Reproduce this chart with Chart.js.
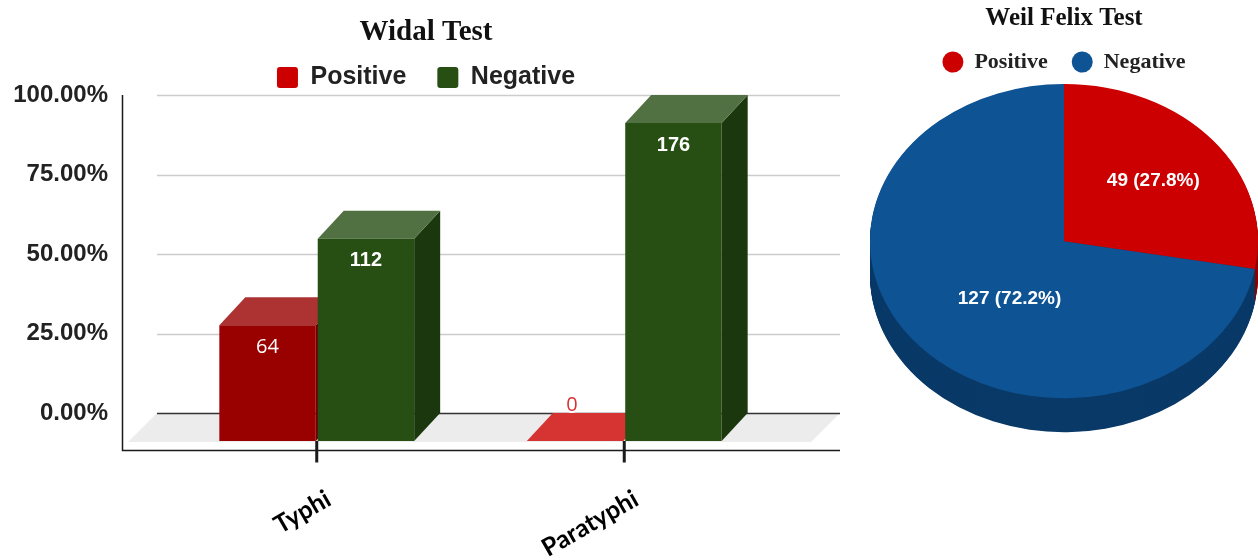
<!DOCTYPE html>
<html>
<head>
<meta charset="utf-8">
<script src="https://cdn.jsdelivr.net/npm/chart.js@4.4.1/dist/chart.umd.min.js"></script>
<style>
  html, body { margin: 0; padding: 0; background: #fff; }
  #wrap { position: relative; width: 1258px; height: 560px; overflow: hidden; }
  #widal { position: absolute; left: 0; top: 0; }
  #weil { position: absolute; left: 860px; top: 0; }
</style>
</head>
<body>
<div id="wrap">
  <canvas id="widal" width="860" height="560"></canvas>
  <canvas id="weil" width="398" height="560"></canvas>
</div>
<script>
// Widal test results (number of patients)
const widalCategories = ['Typhi', 'Paratyphi'];
const widalPositive = [64, 0];
const widalNegative = [112, 176];
const widalTotal = 176;
const widalTicks = [0, 25, 50, 75, 100];

// Weil Felix test results (number of patients)
const weilLabels = ['Positive', 'Negative'];
const weilCounts = [49, 127];

// Colours
const widalSeriesColors = ['#cc0000', '#274e13'];
const positiveBarColors = ['#990000', '#cc0000'];
const negativeBarColors = ['#274e13', '#274e13'];
const weilColors = ['#cc0000', '#0e5394'];

const valueLabelFonts = ['20px "Open Sans"', 'bold 20px "Liberation Sans"'];

Chart.defaults.font.family = '"Liberation Sans", Arial, sans-serif';

// mix a hex colour towards white (255) or black (0)
function shade(hex, target, amt) {
  const n = parseInt(hex.slice(1), 16);
  const ch = [(n >> 16) & 255, (n >> 8) & 255, n & 255]
    .map(v => Math.round(v + (target - v) * amt));
  return 'rgb(' + ch.join(',') + ')';
}
const lighten = (c, a) => shade(c, 255, a);
const darken = (c, a) => shade(c, 0, a);

// depth of the 3D bars (towards the back plane: right and up)
const DX = 26, DY = 28;
// empty band between the legend and the plot
const PLOT_GAP = 23;
// the back plane runs past the category band on both sides
const PLANE_LEFT_INSET = 6, PLANE_RIGHT_EXTRA = 62;
// left edge of the y tick labels
const LABELS_LEFT = 12;

const plotGap = {
  id: 'plotGap',
  beforeInit(chart) {
    Chart.layouts.addBox(chart, {
      position: 'top',
      weight: 0,
      fullSize: true,
      options: {},
      left: 0, top: 0, right: 0, bottom: 0, width: 0, height: 0,
      update(maxWidth) { this.width = maxWidth; this.height = PLOT_GAP; },
      isHorizontal() { return true; },
      draw() {}
    });
  },
  // centre title and legend over the whole drawing (labels to back plane)
  afterLayout(chart) {
    const left = LABELS_LEFT, right = chart.chartArea.right + PLANE_RIGHT_EXTRA;
    [chart.titleBlock, chart.legend].forEach(b => {
      if (!b) return;
      b.left = left;
      b.right = right;
      b.width = right - left;
    });
  }
};

const bar3d = {
  id: 'bar3d',
  beforeDraw(chart) {
    const { ctx, chartArea: ca, scales: { y } } = chart;
    const y0 = y.getPixelForValue(0);
    const left = ca.left - PLANE_LEFT_INSET, right = ca.right + PLANE_RIGHT_EXTRA;
    ctx.save();
    // floor
    ctx.fillStyle = '#ececec';
    ctx.beginPath();
    ctx.moveTo(left, y0 - DY);
    ctx.lineTo(right, y0 - DY);
    ctx.lineTo(right - DX - 3, y0 + 1);
    ctx.lineTo(left - DX - 3, y0 + 1);
    ctx.closePath();
    ctx.fill();
    // gridlines on the back plane
    widalTicks.forEach(v => {
      const py = Math.round(y.getPixelForValue(v) - DY) + 0.5;
      ctx.strokeStyle = v === 0 ? '#333333' : '#cccccc';
      ctx.lineWidth = 1.5;
      ctx.beginPath();
      ctx.moveTo(left, py);
      ctx.lineTo(right, py);
      ctx.stroke();
    });
    ctx.restore();
  },
  beforeDatasetsDraw(chart) {
    const { ctx } = chart;
    const metas = chart.data.datasets.map((_, d) => chart.getDatasetMeta(d));
    ctx.save();
    // draw bar by bar, left to right, so each box hides the one behind it
    for (let i = 0; i < widalCategories.length; i++) {
      metas.forEach(meta => {
        const el = meta.data[i];
        const { x, y, base, width } = el.getProps(['x', 'y', 'base', 'width'], true);
        const l = x - width / 2, r = x + width / 2;
        const color = el.options.backgroundColor;
        // side face
        ctx.fillStyle = darken(color, 0.3);
        ctx.beginPath();
        ctx.moveTo(r, y);
        ctx.lineTo(r + DX, y - DY);
        ctx.lineTo(r + DX, base - DY);
        ctx.lineTo(r, base);
        ctx.closePath();
        ctx.fill();
        // top face
        ctx.fillStyle = lighten(color, 0.2);
        ctx.beginPath();
        ctx.moveTo(l, y);
        ctx.lineTo(l + DX, y - DY);
        ctx.lineTo(r + DX, y - DY);
        ctx.lineTo(r, y);
        ctx.closePath();
        ctx.fill();
        // front face
        el.draw(ctx);
      });
    }
    // value labels
    ctx.textAlign = 'center';
    ctx.textBaseline = 'middle';
    metas.forEach((meta, d) => {
      const counts = chart.data.datasets[d].counts;
      meta.data.forEach((el, i) => {
        const { x, y } = el.getProps(['x', 'y'], true);
        const text = String(counts[i]);
        ctx.font = valueLabelFonts[d];
        if (counts[i] === 0) {
          const ly = y - DY - 8;
          ctx.lineJoin = 'round';
          ctx.lineWidth = 4;
          ctx.strokeStyle = '#ffffff';
          ctx.strokeText(text, x - 3, ly);
          ctx.fillStyle = lighten(el.options.backgroundColor, 0.2);
          ctx.fillText(text, x - 3, ly);
        } else {
          ctx.fillStyle = '#ffffff';
          ctx.fillText(text, x, y + 22);
        }
      });
    });
    ctx.restore();
    return false;
  },
  afterDraw(chart) {
    const { ctx, chartArea: ca, scales: { x, y } } = chart;
    const y0 = y.getPixelForValue(0);
    const axisX = ca.left - 40.5, axisY = Math.round(y0 + 9) + 0.5;
    ctx.save();
    ctx.strokeStyle = '#1a1a1a';
    ctx.lineWidth = 1.5;
    ctx.beginPath();
    ctx.moveTo(axisX, y.getPixelForValue(100) - DY);
    ctx.lineTo(axisX, axisY);
    ctx.lineTo(ca.right + PLANE_RIGHT_EXTRA, axisY);
    ctx.stroke();
    ctx.lineWidth = 3;
    widalCategories.forEach((_, i) => {
      const px = x.getPixelForValue(i);
      ctx.beginPath();
      ctx.moveTo(px, y0);
      ctx.lineTo(px, axisY + 12);
      ctx.stroke();
    });
    ctx.restore();
  }
};

new Chart(document.getElementById('widal'), {
  type: 'bar',
  data: {
    labels: widalCategories,
    datasets: [
      {
        label: 'Positive',
        counts: widalPositive,
        data: widalPositive.map(v => v / widalTotal * 100),
        backgroundColor: positiveBarColors
      },
      {
        label: 'Negative',
        counts: widalNegative,
        data: widalNegative.map(v => v / widalTotal * 100),
        backgroundColor: negativeBarColors
      }
    ]
  },
  options: {
    responsive: false,
    animation: false,
    devicePixelRatio: 1,
    layout: { padding: { left: 0, right: 82, top: 0, bottom: 0 } },
    datasets: { bar: { categoryPercentage: 0.64, barPercentage: 0.98, borderWidth: 0 } },
    plugins: {
      title: {
        display: true,
        text: 'Widal Test',
        color: '#111111',
        font: { family: '"Liberation Serif", "Times New Roman", serif', size: 29, weight: 'bold', lineHeight: 1 },
        padding: { top: 18, bottom: -13 }
      },
      legend: {
        labels: {
          boxWidth: 21,
          boxHeight: 21,
          useBorderRadius: true,
          borderRadius: 3,
          padding: 31,
          color: '#222222',
          font: { size: 25, weight: 'bold' },
          generateLabels(chart) {
            const items = Chart.defaults.plugins.legend.labels.generateLabels(chart);
            items.forEach((item, i) => { item.fillStyle = widalSeriesColors[i]; item.lineWidth = 0; });
            return items;
          }
        }
      },
      tooltip: { enabled: false }
    },
    scales: {
      x: {
        grid: { display: false },
        border: { display: false },
        ticks: {
          minRotation: 30,
          maxRotation: 30,
          padding: 35,
          labelOffset: 12,
          color: '#000000',
          font: { family: 'Lato', size: 25, weight: 'bold' }
        },
        afterFit(s) { s.height = 119; s.paddingLeft = 0; s.paddingRight = 0; }
      },
      y: {
        min: 0,
        max: 100,
        grid: { display: false },
        border: { display: false },
        ticks: {
          stepSize: 25,
          padding: 47,
          labelOffset: -DY,
          color: '#222222',
          font: { size: 24, weight: 'bold' },
          callback: v => v.toFixed(2) + '%'
        },
        afterFit(s) { s.width = 163; s.paddingTop = 0; }
      }
    }
  },
  plugins: [plotGap, bar3d]
});

// tilted pie with an extruded rim
const TILT = 0.81, DEPTH = 34;
const weilLabelRadius = [0.6, 0.46];
const weilLabelTurn = [0, -12.5];   // degrees

const pie3d = {
  id: 'pie3d',
  beforeDatasetsDraw(chart) {
    const { ctx } = chart;
    const meta = chart.getDatasetMeta(0);
    const first = meta.data[0];
    const cy = first.y;
    const cyT = chart.legend.bottom + 1 + first.outerRadius * TILT;
    chart.$tilt = { cy, cyT };
    ctx.save();
    ctx.translate(0, cyT);
    ctx.scale(1, TILT);
    ctx.translate(0, -cy);
    const depth = DEPTH / TILT;
    for (let k = depth; k > 0; k -= 1) {
      meta.data.forEach(el => {
        ctx.fillStyle = darken(el.options.backgroundColor, 0.3);
        ctx.beginPath();
        ctx.moveTo(el.x, el.y + k);
        ctx.arc(el.x, el.y + k, el.outerRadius, el.startAngle, el.endAngle);
        ctx.closePath();
        ctx.fill();
      });
    }
  },
  afterDatasetsDraw(chart) {
    const { ctx } = chart;
    ctx.restore();
    const { cy, cyT } = chart.$tilt;
    const meta = chart.getDatasetMeta(0);
    const total = weilCounts.reduce((a, b) => a + b, 0);
    ctx.save();
    ctx.font = 'bold 19px "Liberation Sans"';
    ctx.fillStyle = '#ffffff';
    ctx.textAlign = 'center';
    ctx.textBaseline = 'middle';
    meta.data.forEach((el, i) => {
      const mid = (el.startAngle + el.endAngle) / 2 + weilLabelTurn[i] * Math.PI / 180;
      const rr = el.outerRadius * weilLabelRadius[i];
      const lx = el.x + Math.cos(mid) * rr;
      const ly = cyT + (el.y + Math.sin(mid) * rr - cy) * TILT;
      const pct = (weilCounts[i] / total * 100).toFixed(1);
      ctx.fillText(weilCounts[i] + ' (' + pct + '%)', lx, ly);
    });
    ctx.restore();
  }
};

new Chart(document.getElementById('weil'), {
  type: 'pie',
  data: {
    labels: weilLabels,
    datasets: [{ data: weilCounts, backgroundColor: weilColors, borderWidth: 0 }]
  },
  options: {
    responsive: false,
    animation: false,
    devicePixelRatio: 1,
    layout: { padding: { left: 10, right: 0, top: 0, bottom: 0 } },
    plugins: {
      title: {
        display: true,
        text: 'Weil Felix Test',
        color: '#111111',
        font: { family: '"Liberation Serif", "Times New Roman", serif', size: 25, weight: 'bold' },
        padding: { top: 4, bottom: -7 }
      },
      legend: {
        labels: {
          usePointStyle: true,
          pointStyle: 'circle',
          pointStyleWidth: 21,
          boxHeight: 15,
          padding: 24,
          color: '#222222',
          font: { family: '"Liberation Serif", "Times New Roman", serif', size: 22, weight: 'bold' }
        }
      },
      tooltip: { enabled: false }
    }
  },
  plugins: [pie3d]
});
</script>
</body>
</html>
